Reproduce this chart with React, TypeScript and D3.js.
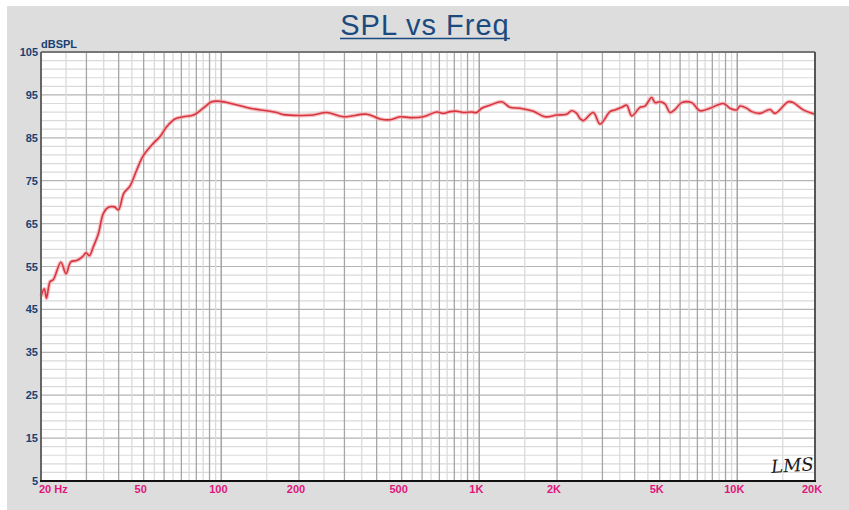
import { useMemo } from 'react';
import * as d3 from 'd3';

const W = 849;
const H = 510;

const freqs = [
  20, 20.6, 21.0, 21.7, 22.3, 23.9, 25.0, 26.1, 27.5, 29.0, 29.9, 30.8, 31.9, 33.4, 34.9, 36.5,
  38.5, 39.9, 41.9, 44.3, 47.0, 49.8, 54.5, 57.9, 61.4, 66.1, 71.2, 77.9, 85.1, 91.7, 98.8,
  111, 129, 150, 164, 174, 202, 227, 256, 297, 366, 412, 451, 493, 539, 606, 684, 725, 770,
  817, 867, 934, 977, 1021, 1100, 1221, 1315, 1438, 1619, 1797, 1995, 2180, 2280, 2384, 2456,
  2530, 2765, 2936, 3210, 3356, 3563, 3726, 3896, 4195, 4387, 4656, 4796, 5014, 5243, 5483,
  5733, 6085, 6654, 7168, 7834, 8822, 9363, 9943, 10242, 10873, 11370, 12246, 13384, 13996,
  15762, 16482, 18020, 20000,
];
const spl = [
  48.0, 49.8, 47.6, 51.5, 51.9, 56.0, 53.3, 56.1, 56.4, 57.3, 58.2, 57.5, 59.6, 62.7, 67.4, 68.8,
  68.9, 68.2, 72.1, 73.8, 77.5, 80.8, 83.7, 85.3, 87.6, 89.4, 89.9, 90.3, 91.9, 93.4, 93.5,
  92.9, 91.9, 91.3, 90.9, 90.4, 90.2, 90.3, 90.9, 89.9, 90.5, 89.4, 89.2, 89.9, 89.7, 89.9, 91.0, 90.7, 91.1,
  91.2, 90.9, 91.0, 90.9, 91.9, 92.6, 93.4, 92.1, 91.9, 91.2, 89.9, 90.3, 90.5, 91.3, 90.7, 89.5,
  89.0, 90.9, 88.2, 91.1, 91.5, 92.1, 92.6, 90.1, 92.1, 92.4, 94.4, 93.2, 93.4, 92.9, 90.9,
  91.6, 93.2, 93.2, 91.3, 91.9, 93.0, 91.9, 91.5, 92.4, 91.9, 91.1, 90.7, 91.6, 90.7,
  93.4, 93.2, 91.5, 90.5,
];

const yTicks = [5, 15, 25, 35, 45, 55, 65, 75, 85, 95, 105];
const xTicks = [20, 50, 100, 200, 500, 1000, 2000, 5000, 10000, 20000];
const xTickLabels = ['20 Hz', '50', '100', '200', '500', '1K', '2K', '5K', '10K', '20K'];

const margin = { left: 41, right: W - 815, top: 52, bottom: H - 481 };

export default function App() {
  const x = d3.scaleLog().domain([20, 20000]).range([margin.left, W - margin.right]);
  const y = d3.scaleLinear().domain([5, 105]).range([H - margin.bottom, margin.top]);

  const vGrid = useMemo(() => {
    const out: { v: number; major: boolean }[] = [];
    [10, 100, 1000, 10000].forEach(dec => {
      for (let k = 2; k <= 20; k++) {
        const v = (k * dec) / 2;
        if (v > 20 && v < 20000) out.push({ v, major: k % 2 === 0 });
      }
    });
    return out;
  }, []);

  const hGrid = d3.range(7, 105, 2);

  const data = freqs.map((f, i) => [f, spl[i]] as [number, number]);
  const line = d3.line<[number, number]>()
    .x(d => x(d[0]))
    .y(d => y(d[1]))
    .curve(d3.curveCatmullRom);

  const x0 = x.range()[0], x1 = x.range()[1];
  const y0 = y.range()[0], y1 = y.range()[1];

  return (
    <div style={{ position: 'fixed', left: 0, top: 0 }}>
      <svg width={W} height={H} style={{ display: 'block' }}>
        <rect x={0} y={0} width={W} height={H} fill="#ffffff" />
        <rect x={7} y={6} width={W - 7} height={H - 6} fill="#dcdddc" />

        {/* title */}
        <text x={425} y={35} textAnchor="middle" fontFamily="'Liberation Sans', Arial, sans-serif"
          fontSize={29} letterSpacing={1} fill="#1b4a7e">SPL vs Freq</text>
        <line x1={340} x2={510} y1={38.5} y2={38.5} stroke="#1b4a7e" strokeWidth={1.5} />

        {/* plot area */}
        <rect x={x0} y={y1} width={x1 - x0} height={y0 - y1} fill="#ffffff" />

        {hGrid.map(v => (
          <line key={'h' + v} x1={x0} x2={x1} y1={y(v)} y2={y(v)}
            stroke={(v - 5) % 10 === 0 ? '#b4b4b4' : '#dadada'} strokeWidth={1.2} />
        ))}
        {vGrid.map(g => (
          <line key={'v' + g.v} x1={x(g.v)} x2={x(g.v)} y1={y1} y2={y0}
            stroke={g.major ? '#a6a6a6' : '#dadada'} strokeWidth={1.3} />
        ))}

        {/* response */}
        <path d={line(data) ?? ''} fill="none" stroke="#f2a4aa" strokeWidth={4} strokeOpacity={0.7} />
        <path d={line(data) ?? ''} fill="none" stroke="#d8363f" strokeWidth={1.6} />

        {/* frame */}
        <line x1={x0} x2={x1} y1={y1} y2={y1} stroke="#777" strokeWidth={1.8} />
        <line x1={x1} x2={x1} y1={y1} y2={y0} stroke="#555" strokeWidth={2} />
        <line x1={x0} x2={x0} y1={y1} y2={y0} stroke="#666" strokeWidth={2} />
        <line x1={x0 - 1} x2={x1 + 1} y1={y0} y2={y0} stroke="#111" strokeWidth={2} />

        {/* y labels */}
        {yTicks.map(v => (
          <text key={'yl' + v} x={38} y={y(v) + 4} textAnchor="end"
            fontFamily="'Liberation Sans', Arial, sans-serif" fontWeight="bold" fontSize={11} fill="#1b3f73">
            {v}
          </text>
        ))}
        <text x={41} y={48} fontFamily="'Liberation Sans', Arial, sans-serif" fontWeight="bold"
          fontSize={11} fill="#1b3f73">dBSPL</text>

        {/* x labels */}
        {xTicks.map((v, i) => (
          <text key={'xl' + v} x={i === 0 ? x(v) - 2 : x(v) - 3} y={493}
            textAnchor={i === 0 ? 'start' : 'middle'}
            fontFamily="'Liberation Sans', Arial, sans-serif" fontWeight="bold" fontSize={11} fill="#e0167c">
            {xTickLabels[i]}
          </text>
        ))}

        {/* LMS mark */}
        <text x={771} y={472} fontFamily="'DejaVu Serif', serif" fontStyle="italic" fontSize={18}
          fill="#1a1a1a" transform="rotate(-4 786 466)">LMS</text>
      </svg>
    </div>
  );
}
